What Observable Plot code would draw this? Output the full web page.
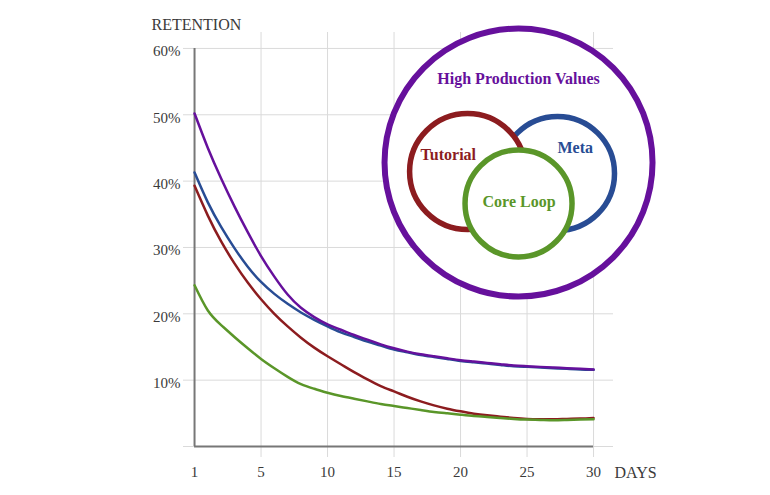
<!DOCTYPE html>
<html><head><meta charset="utf-8">
<script src="https://cdn.jsdelivr.net/npm/d3@7"></script>
<script src="https://cdn.jsdelivr.net/npm/@observablehq/plot@0.6"></script>
<style>body{margin:0;background:#fff}</style>
</head><body><div id="chart"></div>
<script>
// Day index (position 0 is labelled "1")
const days = [0,1,2,3,4,5,6,7,8,9,10,11,12,13,14,15,16,17,18,19,20,21,22,23,24,25,26,27,28,29,30];
// Retention (%) per series
const tutorial = [39.3,34.8,30.9,27.6,24.7,22.2,20.0,18.1,16.4,14.9,13.6,12.4,11.2,10.1,9.1,8.3,7.5,6.8,6.2,5.7,5.3,4.95,4.7,4.5,4.3,4.15,4.1,4.1,4.15,4.2,4.3];
const meta = [41.3,36.8,33.1,29.9,27.1,24.8,23.0,21.5,20.2,19.1,18.1,17.2,16.5,15.8,15.2,14.6,14.2,13.8,13.5,13.2,12.9,12.7,12.5,12.3,12.1,12.0,11.9,11.8,11.7,11.6,11.55];
const coreLoop = [24.3,20.5,18.3,16.5,14.8,13.2,11.8,10.5,9.4,8.7,8.1,7.6,7.2,6.8,6.4,6.1,5.8,5.5,5.2,5.0,4.8,4.6,4.45,4.3,4.15,4.05,4.0,3.95,4.0,4.05,4.1];
const highProduction = [50.2,45.0,40.4,36.2,32.3,28.7,25.6,22.9,20.9,19.5,18.4,17.6,16.8,16.1,15.4,14.8,14.3,13.9,13.6,13.3,13.0,12.8,12.6,12.4,12.2,12.1,12.0,11.9,11.8,11.7,11.6];

const seriesNames = ["Tutorial", "Core Loop", "Meta", "High Production Values"];
const seriesValues = [tutorial, coreLoop, meta, highProduction];
const yTicks = [10,20,30,40,50,60];
const xTicks = [0,5,10,15,20,25,30];
const yGrid = [0,10,20,30,40,50,60];
const xGrid = [5,10,15,20,25,30];

const colors = {"Tutorial":"#8c1c1f","Meta":"#284c94","Core Loop":"#5a9629","High Production Values":"#66109c"};

const rows = seriesNames.flatMap((name, k) => seriesValues[k].map((v, i) => ({day: days[i], value: v, series: name})));

// Venn annotation layout (in data units)
const venn = [
  {name:"High Production Values", cx:24.36, cy:42.8, r:134, sw:6, lx:24.36, ly:55.4},
  {name:"Meta", cx:27.29, cy:41.15, r:57, sw:5.5, lx:28.62, ly:45.05},
  {name:"Tutorial", cx:20.53, cy:41.45, r:58, sw:5.5, lx:19.08, ly:44.0},
  {name:"Core Loop", cx:24.36, cy:36.63, r:53.5, sw:5.5, lx:24.4, ly:36.9}
];

const font = "'Liberation Serif', 'DejaVu Serif', serif";

const marks = [
  Plot.gridY(yGrid, {stroke:"#dadada", strokeOpacity:1}),
  Plot.gridX(xGrid, {stroke:"#dadada", strokeOpacity:1}),
  Plot.ruleX([0], {y1:0, y2:60, stroke:"#777", strokeWidth:2}),
  Plot.ruleY([0], {x1:0, x2:30, stroke:"#777", strokeWidth:2}),
  Plot.axisY(yTicks, {tickSize:0, tickPadding:3, tickFormat:d => d + "%", fontSize:15, dy:3, label:null, fill:"#3a3a3a"}),
  Plot.axisX(xTicks, {tickSize:0, tickPadding:9, tickFormat:d => d === 0 ? "1" : String(d), fontSize:15, label:null, fill:"#3a3a3a"}),
  ...seriesNames.map(name => Plot.line(rows.filter(r => r.series === name), {x:"day", y:"value", stroke:colors[name], strokeWidth:2.5, curve:"natural"})),
  Plot.text(["RETENTION"], {text:d => d, frameAnchor:"top-left", dx:-32, dy:-3, textAnchor:"start", lineAnchor:"bottom", fontSize:16, fill:"#3a3a3a"}),
  Plot.text(["DAYS"], {text:d => d, frameAnchor:"bottom-right", dx:1, dy:15, textAnchor:"start", lineAnchor:"middle", fontSize:16, fill:"#3a3a3a"}),
  ...venn.map(v => Plot.dot([v], {x:"cx", y:"cy", r:v.r, fill:"white", stroke:colors[v.name], strokeWidth:v.sw})),
  Plot.text(venn, {x:"lx", y:"ly", text:"name", fill:d => colors[d.name], fontSize:16, fontWeight:"bold", lineAnchor:"middle"})
];

const chart = Plot.plot({
  width:770, height:495,
  marginLeft:183, marginRight:157, marginTop:32, marginBottom:38,
  style:{fontFamily:font, background:"white"},
  x:{domain:[-0.83, 31.5], axis:null},
  y:{domain:[-1.66, 62.4], axis:null},
  marks
});
document.getElementById("chart").append(chart);
</script>
</body></html>
